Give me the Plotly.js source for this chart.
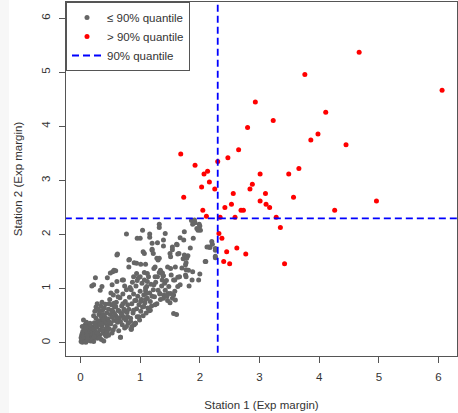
<!DOCTYPE html>
<html>
<head>
<meta charset="utf-8">
<script src="https://cdn.plot.ly/plotly-3.0.1.min.js"></script>
<style>
html,body{margin:0;padding:0;background:#fff;}
#chart{width:458px;height:413px;}
#strip{position:absolute;left:0;top:0;width:9px;height:413px;background:#f7f7f7;}
</style>
</head>
<body>
<div id="chart"></div>
<div id="strip"></div>
<script>
// ---- data ----
const quantile90 = 2.3;

const grayPoints = [
[0.01,0.02],[0.02,0.05],[0.03,0.01],[0.04,0.08],[0.05,0.03],[0.06,0.12],[0.07,0.06],[0.08,0.02],[0.09,0.15],[0.10,0.09],
[0.11,0.04],[0.12,0.19],[0.13,0.11],[0.14,0.07],[0.15,0.24],[0.16,0.14],[0.17,0.03],[0.18,0.09],[0.19,0.18],[0.20,0.29],
[0.02,0.14],[0.04,0.21],[0.06,0.27],[0.08,0.33],[0.10,0.38],[0.03,0.30],[0.05,0.42],[0.07,0.18],[0.11,0.25],[0.13,0.32],
[0.15,0.05],[0.17,0.22],[0.19,0.12],[0.09,0.01],[0.12,0.07],[0.14,0.16],[0.16,0.36],[0.18,0.27],[0.20,0.06],[0.01,0.09],
[0.03,0.17],[0.05,0.11],[0.07,0.24],[0.09,0.29],[0.11,0.14],
[0.21,0.15],[0.22,0.02],[0.23,0.37],[0.24,0.21],[0.25,0.10],[0.26,0.45],[0.27,0.28],[0.28,0.08],[0.29,0.19],[0.30,0.33],
[0.31,0.52],[0.32,0.14],[0.33,0.24],[0.34,0.41],[0.35,0.06],[0.36,0.30],[0.37,0.60],[0.38,0.18],[0.39,0.03],[0.40,0.36],
[0.41,0.47],[0.42,0.25],[0.43,0.12],[0.44,0.55],[0.45,0.31],[0.22,0.50],[0.24,0.58],[0.26,0.66],[0.28,0.72],[0.30,0.62],
[0.25,0.34],[0.27,0.17],[0.29,0.40],[0.31,0.09],[0.33,0.35],[0.35,0.48],[0.37,0.22],[0.39,0.43],[0.41,0.15],[0.43,0.38],
[0.45,0.20],[0.21,0.26],[0.23,0.11],[0.32,0.57],[0.34,0.68],[0.36,0.75],[0.38,0.52],[0.40,0.64],[0.42,0.71],[0.44,0.27],
[0.46,0.44],[0.47,0.62],[0.48,0.26],[0.49,0.80],[0.50,0.52],[0.51,0.35],[0.52,0.70],[0.53,0.18],[0.54,0.58],[0.55,0.88],
[0.56,0.41],[0.57,0.66],[0.58,0.30],[0.59,0.50],[0.60,0.75],[0.61,0.95],[0.62,0.38],[0.63,0.60],[0.64,0.22],[0.65,0.46],
[0.66,0.83],[0.67,0.10],[0.68,0.55],[0.69,0.68],[0.70,0.33],[0.71,0.90],[0.72,0.48],[0.73,0.62],[0.74,0.27],[0.75,0.76],
[0.76,0.42],[0.77,0.98],[0.78,0.56],[0.79,0.70],[0.80,0.36],[0.47,0.14],[0.49,0.38],[0.51,0.92],[0.53,0.47],[0.55,0.24],
[0.57,0.54],[0.59,0.67],[0.61,0.44],[0.63,0.85],[0.65,0.58],[0.67,0.39],[0.69,0.52],[0.71,0.72],[0.73,0.45],[0.75,0.58],
[0.77,0.30],[0.79,0.48],[0.48,0.72],[0.52,0.60],[0.56,0.73],
[0.81,0.62],[0.82,0.84],[0.83,1.02],[0.84,0.45],[0.85,0.25],[0.86,0.72],[0.87,1.12],[0.88,0.55],[0.89,0.90],[0.90,0.33],
[0.91,0.78],[0.92,0.36],[0.93,1.05],[0.94,0.63],[0.95,0.48],[0.96,0.86],[0.97,1.20],[0.98,0.70],[0.99,0.42],[1.00,0.95],
[1.01,0.58],[1.02,0.80],[1.03,1.10],[1.04,0.66],[1.05,0.50],[1.06,0.88],[1.07,1.30],[1.08,0.74],[1.09,0.96],[1.10,0.55],
[1.11,1.04],[1.12,0.82],[1.13,0.64],[1.14,1.22],[1.15,0.60],[1.16,0.92],[1.17,0.76],[1.18,1.08],[1.19,0.68],[1.20,0.86],
[0.85,0.98],[0.89,0.60],[0.93,0.78],[1.01,0.76],[1.09,0.80],
[1.22,0.98],[1.24,0.85],[1.26,1.12],[1.28,0.72],[1.30,0.97],[1.32,1.30],[1.34,0.80],[1.36,1.05],[1.38,1.24],[1.40,0.88],
[1.42,0.97],[1.44,1.15],[1.46,0.78],[1.47,0.91],[1.48,1.04],[1.50,0.74],[1.52,1.25],[1.54,0.82],[1.56,0.54],[1.58,0.95],
[1.61,0.52],[1.63,1.21],[1.25,1.40],[1.29,1.22],[1.33,0.90],[1.37,1.29],[1.41,1.10],[1.45,0.86],[1.51,1.37],[1.56,1.16],
[0.77,2.01],[1.04,2.08],[0.95,1.93],[1.00,1.93],[1.32,2.19],[1.32,2.13],[1.42,2.02],[1.74,2.05],[1.73,1.90],[1.86,2.26],
[1.91,2.27],[1.88,2.19],[2.00,2.16],[2.01,2.08],[1.95,2.11],[1.99,2.19],[0.62,1.64],[0.81,1.53],[1.05,1.68],[1.07,1.65],
[1.20,1.73],[1.28,1.56],[1.30,1.53],[1.39,1.79],[1.50,1.65],[1.54,1.72],[1.61,1.82],[1.67,1.94],[1.65,1.65],[1.72,1.55],
[1.77,1.48],[1.80,1.61],[1.84,1.75],[2.10,1.50],[2.21,1.82],[2.17,1.76],[2.15,1.77],[2.26,1.57],[2.26,1.71],[0.90,1.48],
[0.94,1.47],[1.01,1.45],[1.09,1.45],[1.23,1.37],[1.37,1.29],[1.39,1.24],[1.77,1.35],[1.76,1.25],[2.00,1.27],[1.98,1.16],
[1.82,1.05],[1.67,1.07],[0.54,1.31],[0.59,1.33],[0.45,1.20],[0.25,1.20],[0.19,1.05],[0.36,1.04],[0.70,1.16],[0.74,1.05],
[0.95,1.15],[1.07,1.16],[1.10,0.91],[1.15,0.59],[0.92,0.36],[0.85,0.25],[0.67,0.10],
[1.16,2.01],[1.16,1.95],[1.20,1.84],[1.20,1.71],[1.22,1.65],[1.29,1.85],[1.32,1.56],[1.39,1.90],[1.51,1.59],[1.46,1.40],
[1.54,1.77],[1.62,1.81],[1.89,1.93],[1.92,2.22],[1.97,2.08],[1.74,1.62],[1.78,1.56],[1.63,1.64],[1.76,1.44],[1.70,1.38],
[1.81,1.34],[1.88,1.31],[1.87,1.16],[1.77,1.22],[1.66,1.22],[1.59,1.40],[1.58,1.16],[1.63,1.04],[2.12,1.77],[2.20,1.87],
[2.26,1.74],[2.26,1.60],[2.09,1.50],[1.59,0.79],[1.51,0.91],[1.56,0.88],[1.39,0.82],[1.33,0.91],[1.25,0.70],[1.17,0.60],
[1.06,0.67],[0.98,0.48],[0.86,0.30],[0.84,0.39],[0.61,1.62],[0.50,1.29],[0.56,1.34],[0.22,1.07],[0.33,0.97],[0.82,1.54],
[0.81,1.40],[0.94,1.28],[0.89,1.22],[0.72,1.16],[0.61,1.13],[0.53,1.07],[1.00,1.22],[1.12,1.28],[1.12,1.13],[1.25,1.22],
[1.34,1.34],[1.37,1.16],[1.23,1.07],[1.09,1.01]
];

const redPoints = [
[4.67,5.37],[6.06,4.67],[3.76,4.96],[2.93,4.45],[4.11,4.26],[3.23,4.11],[2.80,3.98],[3.98,3.86],[3.86,3.75],[4.45,3.66],
[2.65,3.57],[1.68,3.49],[2.47,3.42],[2.30,3.35],[1.92,3.28],[3.66,3.22],[2.13,3.17],[2.07,3.12],[3.01,3.12],[3.49,3.12],
[2.16,2.97],[2.88,2.93],[2.03,2.88],[2.25,2.84],[2.84,2.84],[2.56,2.76],[3.10,2.76],[1.73,2.69],[3.57,2.69],[3.01,2.62],
[4.96,2.62],[2.53,2.56],[3.11,2.56],[2.42,2.50],[3.17,2.50],[2.05,2.45],[2.69,2.45],[2.73,2.45],[4.26,2.45],[2.11,2.34],
[2.34,2.32],[2.59,2.32],[3.28,2.32],[3.35,2.13],[2.32,2.02],[2.37,1.93],[2.45,1.68],[2.62,1.75],[2.77,1.64],[2.40,1.50],
[2.50,1.46],[3.42,1.46]
];

const legendLabels = ["\u2264 90% quantile", "> 90% quantile", "90% quantile"];
const xTicks = [0,1,2,3,4,5,6];
const yTicks = [0,1,2,3,4,5,6];
const xTitle = "Station 1 (Exp margin)";
const yTitle = "Station 2 (Exp margin)";

// ---- traces ----
const fontFam = "Liberation Sans, Arial, Helvetica, sans-serif";
const traces = [
  {
    type: "scatter", mode: "markers", name: legendLabels[0],
    x: grayPoints.map(p => p[0]), y: grayPoints.map(p => p[1]),
    marker: {color: "#666666", size: 5}
  },
  {
    type: "scatter", mode: "markers", name: legendLabels[1],
    x: redPoints.map(p => p[0]), y: redPoints.map(p => p[1]),
    marker: {color: "#ff0000", size: 5}
  },
  {
    type: "scatter", mode: "lines", name: legendLabels[2],
    x: [quantile90, quantile90, null, -1, 8],
    y: [-1, 8, null, quantile90, quantile90],
    line: {color: "#0000ff", width: 1.8, dash: "7px,4px"}
  }
];

const axisCommon = {
  showgrid: false, zeroline: false,
  showline: true, mirror: true, linecolor: "#555", linewidth: 1,
  ticks: "outside", ticklen: 6, tickcolor: "#555", tickwidth: 1,
  tickfont: {family: fontFam, size: 11.5, color: "#333"},
  tickmode: "array", ticklabelstandoff: 4
};

const layout = {
  width: 458, height: 413,
  margin: {l: 66, r: 1, t: 2, b: 57},
  paper_bgcolor: "#ffffff", plot_bgcolor: "#ffffff",
  showlegend: true,
  legend: {
    x: 0, y: 1, xanchor: "left", yanchor: "top",
    bordercolor: "#555", borderwidth: 1, bgcolor: "#ffffff",
    font: {family: fontFam, size: 11.5, color: "#333"},
    tracegroupgap: 0, itemwidth: 30
  },
  xaxis: Object.assign({}, axisCommon, {
    range: [-0.243, 6.31], tickvals: xTicks, ticktext: xTicks.map(String),
    title: {text: xTitle, font: {family: fontFam, size: 11.5, color: "#333"}, standoff: 19}
  }),
  yaxis: Object.assign({}, axisCommon, {
    range: [-0.246, 6.30], tickvals: yTicks, ticktext: yTicks.map(String),
    tickangle: -90,
    title: {text: yTitle, font: {family: fontFam, size: 11.5, color: "#333"}, standoff: 15}
  })
};

Plotly.newPlot("chart", traces, layout, {displayModeBar: false, staticPlot: true});
</script>
</body>
</html>
